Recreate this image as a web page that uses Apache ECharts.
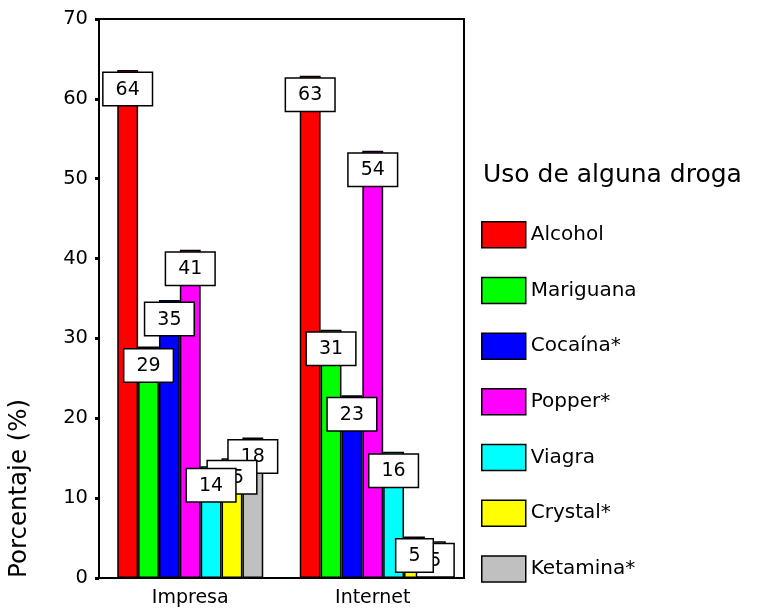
<!DOCTYPE html>
<html>
<head>
<meta charset="utf-8">
<script src="https://cdn.jsdelivr.net/npm/echarts@6/dist/echarts.min.js"></script>
<style>
  html, body { margin: 0; padding: 0; background: #fff; }
  #main { width: 766px; height: 608px; }
</style>
</head>
<body>
<div id="main"></div>
<script>
var chartDom = document.getElementById('main');
var myChart = echarts.init(chartDom);
var option;

const font = 'DejaVu Sans, Liberation Sans, Arial, sans-serif';

const categories = ['Impresa', 'Internet'];
const drugs = ['Alcohol', 'Mariguana', 'Cocaína*', 'Popper*', 'Viagra', 'Crystal*', 'Ketamina*'];
const colors = ['#ff0000', '#00ff00', '#0000ff', '#ff00ff', '#00ffff', '#ffff00', '#c0c0c0'];

// porcentaje por droga: [Impresa, Internet]
const alcohol = [63.6, 62.9];
const mariguana = [29, 31.1];
const cocaina = [34.8, 22.9];
const popper = [41.1, 53.5];
const viagra = [14, 15.8];
const crystal = [15, 5.2];
const ketamina = [17.6, 4.6];
const values = [alcohol, mariguana, cocaina, popper, viagra, crystal, ketamina];

const yTicks = [0, 10, 20, 30, 40, 50, 60, 70];

// the bars themselves
const barSeries = drugs.map((name, i) => ({
    name: name,
    type: 'bar',
    stack: 's' + i,
    data: values[i],
    z: 2,
    barGap: 0,
    barCategoryGap: '20%',
    itemStyle: {
        color: colors[i],
        borderColor: '#000',
        borderWidth: 1.5
    }
}));

// invisible zero-height bars on top of each bar, only to carry the boxed labels
// (separate series so all labels sit above all bars, first ones in front)
const labelSeries = drugs.map((name, i) => ({
    name: 'lbl' + i,
    type: 'bar',
    stack: 's' + i,
    data: values[i].map(() => 0),
    z: 30 - i,
    barGap: 0,
    barCategoryGap: '20%',
    itemStyle: { color: 'transparent', borderWidth: 0 },
    label: {
        show: true,
        position: 'insideTop',
        distance: 3,
        formatter: function (p) {
            return Math.round(values[i][p.dataIndex]) + '';
        },
        color: '#000',
        fontFamily: font,
        fontSize: 19,
        backgroundColor: '#fff',
        borderColor: '#000',
        borderWidth: 1.5,
        padding: [7, 12, 6, 12]
    }
}));

option = {
    animation: false,
    backgroundColor: '#fff',
    title: {
        text: 'Uso de alguna droga',
        left: 478,
        top: 158,
        textStyle: {
            fontFamily: font,
            fontSize: 25,
            fontWeight: 'normal',
            color: '#000'
        }
    },
    legend: {
        data: drugs,
        orient: 'vertical',
        left: 476,
        top: 216,
        icon: 'rect',
        itemWidth: 44,
        itemHeight: 26,
        itemGap: 28.2,
        itemStyle: { borderColor: '#000', borderWidth: 1.5 },
        textStyle: {
            fontFamily: font,
            fontSize: 20,
            color: '#000'
        }
    },
    grid: {
        left: 99,
        right: 302,
        top: 19,
        bottom: 30,
        show: true,
        borderColor: '#000',
        borderWidth: 2,
        backgroundColor: 'transparent'
    },
    xAxis: {
        type: 'category',
        data: categories,
        axisLine: { lineStyle: { color: '#000', width: 2 } },
        axisTick: { alignWithLabel: true, length: 4, lineStyle: { color: '#000', width: 3 } },
        axisLabel: { fontFamily: font, fontSize: 19, color: '#000', margin: 11 }
    },
    yAxis: {
        type: 'value',
        min: yTicks[0],
        max: yTicks[yTicks.length - 1],
        interval: 10,
        splitLine: { show: false },
        axisLine: { show: true, lineStyle: { color: '#000', width: 2 } },
        axisTick: { show: true, length: 4, lineStyle: { color: '#000', width: 3 } },
        axisLabel: { fontFamily: font, fontSize: 19.5, color: '#000', margin: 11 }
    },
    graphic: [{
        type: 'text',
        x: 32,
        y: 578,
        rotation: Math.PI / 2,
        style: {
            text: 'Porcentaje (%)',
            fontFamily: font,
            fontSize: 24.5,
            fill: '#000',
            textAlign: 'left',
            textVerticalAlign: 'bottom'
        }
    }],
    series: barSeries.concat(labelSeries)
};

option && myChart.setOption(option);
</script>
</body>
</html>
